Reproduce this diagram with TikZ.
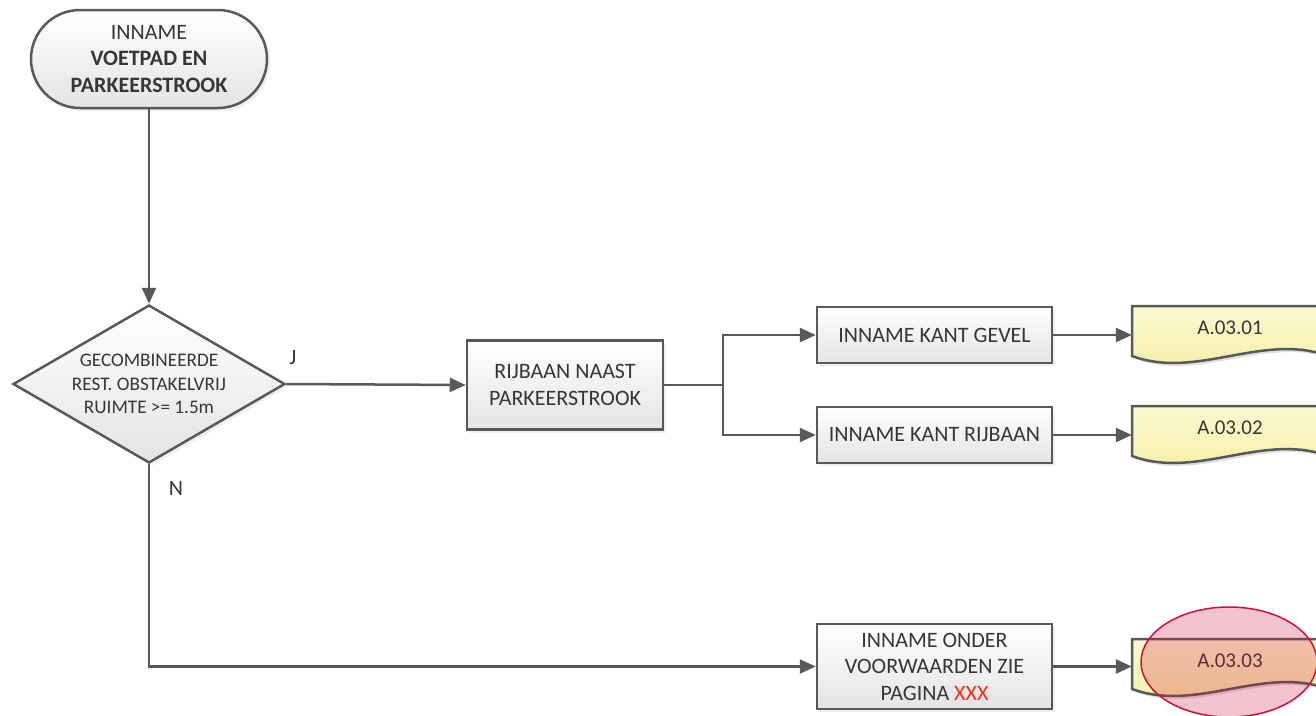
\documentclass[tikz,border=0pt]{standalone}
\usepackage{fontspec}
\setmainfont{Carlito}
\usetikzlibrary{shapes.geometric,arrows.meta,shadows}
\definecolor{linegray}{HTML}{595959}
\definecolor{txtgray}{HTML}{363636}
\definecolor{boxbot}{HTML}{E4E4E4}
\definecolor{doctop}{HTML}{FBF9D2}
\definecolor{docbot}{HTML}{F5EEA0}
\definecolor{markred}{HTML}{D0103A}
\definecolor{xxxred}{HTML}{FF2A1A}
\begin{document}
\begin{tikzpicture}[x=1pt,y=-1pt,font=\fontsize{22}{26.5}\selectfont,text=txtgray,
	box/.style={shape=rectangle, line width=2.5pt, draw=linegray, top color=white, bottom color=boxbot, align=center, inner sep=0pt, drop shadow={shadow xshift=3pt, shadow yshift=-3pt, fill=black!12}},
	term/.style={box, rounded corners=49pt, minimum width=236pt, minimum height=98pt},
	decision/.style={box, shape=diamond, minimum width=272pt, minimum height=158pt},
	doc/.style={minimum width=196pt, minimum height=44pt, inner sep=0pt, font=\fontsize{21}{25}\selectfont},
	docshape/.style={line width=2.5pt, draw=linegray, top color=doctop, bottom color=docbot},
	line/.style={line width=2.5pt, draw=linegray, -{Triangle[length=16pt,width=14pt]}}]
		\useasboundingbox (0,0) rectangle (1316,715);
		\clip (0,0) rectangle (1316,715);
		% documenten
		\foreach \y in {306,406,639} {
			\fill[black!12] (1135,\y+3) -- (1331,\y+3) -- (1331,\y+53) .. controls (1266,\y+29) and (1200,\y+77) .. (1135,\y+53) -- cycle;
			\draw[docshape] (1132,\y) -- (1328,\y) -- (1328,\y+50) .. controls (1263,\y+26) and (1197,\y+74) .. (1132,\y+50) -- cycle;
		}
		\node (term) at (149,59) [term] {INNAME\\\textbf{VOETPAD EN}\\\textbf{PARKEERSTROOK}};
		\node (dec) at (149,384) [decision, label={[align=center, font=\fontsize{19.2}{23.5}\selectfont]center:GECOMBINEERDE\\REST. OBSTAKELVRIJ\\RUIMTE >= 1.5m}] {};
		\node (rij) at (565,385) [box, minimum width=196pt, minimum height=89pt] {RIJBAAN NAAST\\PARKEERSTROOK};
		\node (gevel) at (934.5,335) [box, minimum width=235pt, minimum height=56pt] {INNAME KANT GEVEL};
		\node (rijb) at (934.5,435) [box, minimum width=235pt, minimum height=56pt] {INNAME KANT RIJBAAN};
		\node (onder) at (934.5,666.5) [box, minimum width=235pt, minimum height=85pt] {INNAME ONDER\\VOORWAARDEN ZIE\\PAGINA \textcolor{xxxred}{XXX}};
		\node (doc1) at (1230,328) [doc] {A.03.01};
		\node (doc2) at (1230,428) [doc] {A.03.02};
		\node (doc3) at (1230,661) [doc] {A.03.03};
		\node (j) at (293,358) {J};
		\node (n) at (176,488) {N};
		\coordinate (split) at (723,385);
		% verbindingen
		\draw[line] (term) -- (dec);
		\draw[line] (dec.east) -- (rij.west);
		\draw[line width=2.5pt, draw=linegray] (rij.east) -- (split);
		\draw[line] (split) |- (gevel);
		\draw[line] (split) |- (rijb);
		\draw[line] (dec.south) |- (onder.west);
		\draw[line] (gevel) -- (gevel -| doc1.west);
		\draw[line] (rijb) -- (rijb -| doc2.west);
		\draw[line] (onder) -- (onder -| doc3.west);
		% markering
		\node (mark) at (1229,662) [shape=ellipse, minimum width=176pt, minimum height=110pt, draw=markred, line width=1.5pt, fill=markred, fill opacity=0.25, draw opacity=1] {};
\end{tikzpicture}
\end{document}
